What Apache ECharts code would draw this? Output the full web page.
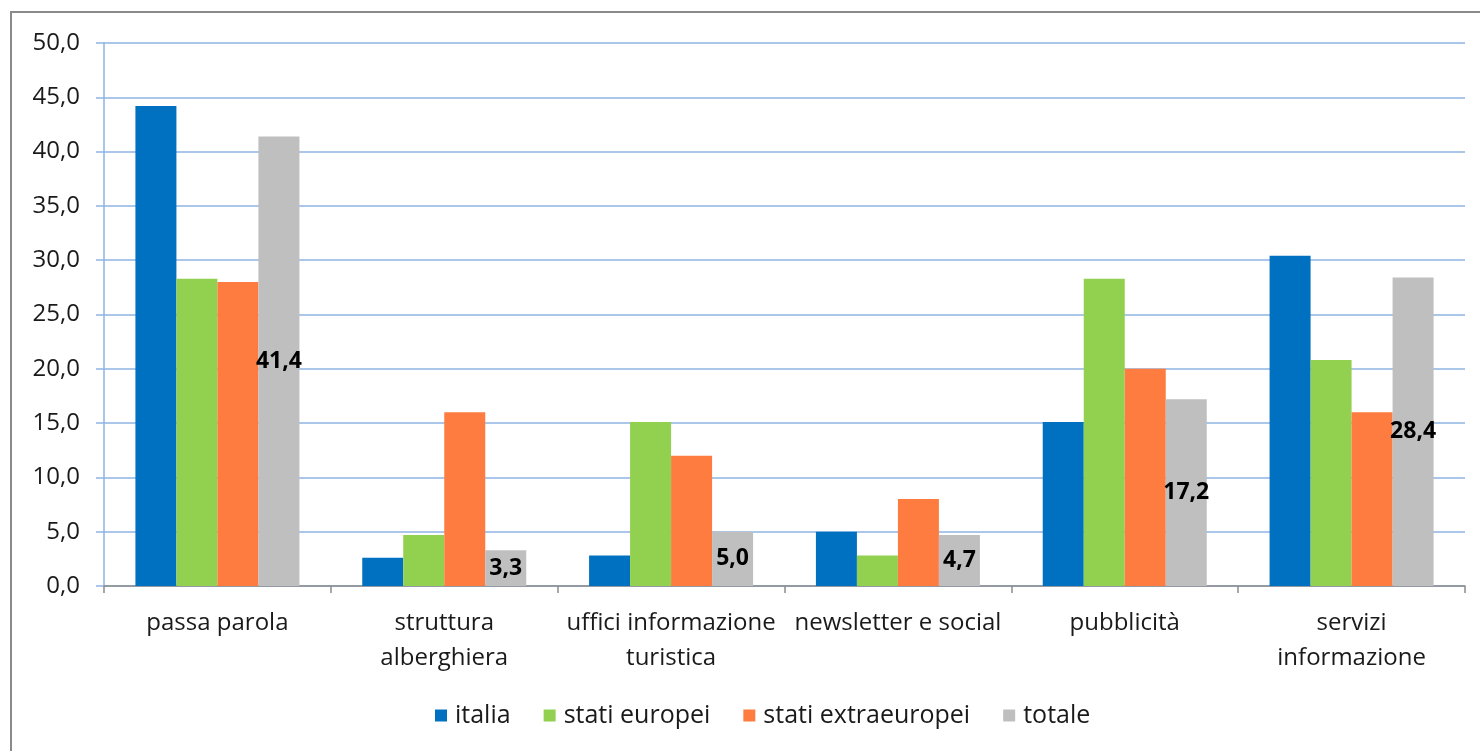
<!DOCTYPE html>
<html><head><meta charset="utf-8">
<script src="https://cdn.jsdelivr.net/npm/echarts@6/dist/echarts.min.js"></script>
<style>html,body{margin:0;padding:0;background:#fff}#c{width:1480px;height:751px}</style>
</head><body><div id="c"></div>
<script>
const categories = ["passa parola","struttura\nalberghiera","uffici informazione\nturistica","newsletter e social","pubblicità","servizi\ninformazione"];
const italia = [44.2, 2.6, 2.8, 5.0, 15.1, 30.4];
const statiEuropei = [28.3, 4.7, 15.1, 2.8, 28.3, 20.8];
const statiExtraeuropei = [28.0, 16.0, 12.0, 8.0, 20.0, 16.0];
const totale = [41.4, 3.3, 5.0, 4.7, 17.2, 28.4];
const seriesNames = ["italia","stati europei","stati extraeuropei","totale"];
const colors = ["#0070C0","#92D050","#FF7C40","#BFBFBF"];
const fmt = v => v.toFixed(1).replace('.', ',');
const FONT = "Open Sans";
const chart = echarts.init(document.getElementById('c'), null, {renderer:'canvas'});
const mk = (name, data, i, label) => ({
  name, type:'bar', data, barGap:'0%', barCategoryGap:'27.7%',
  itemStyle:{color:colors[i]},
  label: label ? {show:true, position:'inside', formatter:p=>fmt(p.value), fontFamily:FONT, fontWeight:'bold', fontSize:23, color:'#000'} : {show:false}
});
chart.setOption({
  animation:false,
  textStyle:{fontFamily:FONT},
  graphic:[{type:'rect', shape:{x:11,y:12,width:1500,height:800}, style:{fill:'none', stroke:'#8a8a8a', lineWidth:2}, silent:true}],
  grid:{left:104, right:15, top:43, bottom:165, containLabel:false},
  legend:{data:seriesNames, bottom:18, left:430, itemWidth:12, itemHeight:12, itemGap:33, icon:'rect',
    textStyle:{fontFamily:FONT, fontSize:25, color:'#1a1a1a', padding:[0,0,0,3]}},
  xAxis:{type:'category', data:categories,
    axisLine:{lineStyle:{color:'#8c8c8c', width:1.5}},
    axisTick:{show:true, length:7, lineStyle:{color:'#8c8c8c', width:1.5}},
    axisLabel:{fontFamily:FONT, fontSize:24, color:'#1a1a1a', lineHeight:35, margin:20, interval:0}},
  yAxis:{type:'value', min:0, max:50, interval:5,
    axisLine:{show:true, lineStyle:{color:'#8EB4E3', width:1.5}},
    axisTick:{show:true, length:8, lineStyle:{color:'#8EB4E3', width:1.5}},
    splitLine:{lineStyle:{color:'#8EB4E3', width:1.5}},
    axisLabel:{formatter:v=>fmt(v), fontFamily:FONT, fontSize:24, color:'#1a1a1a', margin:24}},
  series:[mk(seriesNames[0], italia, 0), mk(seriesNames[1], statiEuropei, 1), mk(seriesNames[2], statiExtraeuropei, 2), mk(seriesNames[3], totale, 3, true)]
});
</script></body></html>
